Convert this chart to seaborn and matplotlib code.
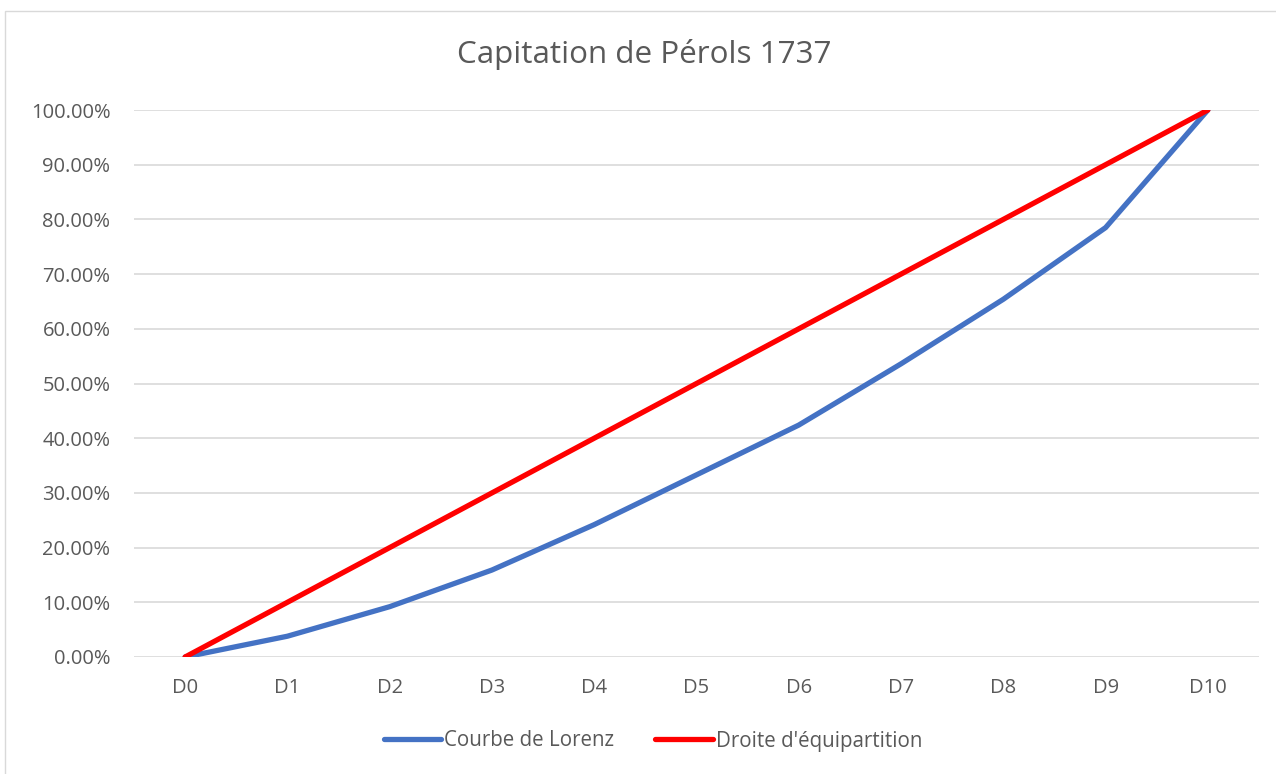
import matplotlib
matplotlib.use("Agg")
import matplotlib.pyplot as plt
from matplotlib.patches import Rectangle
from matplotlib.lines import Line2D
import seaborn as sns
import pandas as pd

deciles = ["D0", "D1", "D2", "D3", "D4", "D5", "D6", "D7", "D8", "D9", "D10"]
lorenz = [0.0, 0.038, 0.092, 0.159, 0.242, 0.333, 0.424, 0.536, 0.654, 0.785, 1.0]
equality = [0.0, 0.1, 0.2, 0.3, 0.4, 0.5, 0.6, 0.7, 0.8, 0.9, 1.0]
series_names = ["Courbe de Lorenz", "Droite d'équipartition"]
title = "Capitation de Pérols 1737"
colors = ["#4472C4", "#FF0000"]

df = pd.DataFrame({
    "x": list(range(len(deciles))) * 2,
    "y": lorenz + equality,
    "serie": [series_names[0]] * len(deciles) + [series_names[1]] * len(deciles),
})

sns.set_theme(style="white")
plt.rcParams["font.family"] = ["Open Sans", "DejaVu Sans"]

fig = plt.figure(figsize=(12.76, 7.74), dpi=100)
ax = fig.add_axes([134 / 1276, 1 - 657 / 774, 1125 / 1276, 547 / 774])

# outer chart frame
fig.patches.append(Rectangle((5 / 1276, -0.01), 1.02, 1 - 11 / 774 + 0.01,
                             transform=fig.transFigure, fill=False,
                             edgecolor="#D9D9D9", linewidth=1))

sns.lineplot(data=df, x="x", y="y", hue="serie", palette=colors,
             linewidth=3.8, ax=ax, legend=False, solid_capstyle="round")

ax.set_xlim(-0.5, len(deciles) - 0.5)
ax.set_ylim(0, 1)
ax.set_yticks([i / 10 for i in range(11)])
ax.set_yticklabels([f"{i * 10:.2f}%" for i in range(11)])
ax.set_xticks(range(len(deciles)))
ax.set_xticklabels(deciles)
ax.grid(axis="y", color="#D9D9D9", linewidth=1.2)
ax.set_axisbelow(True)
for s in ax.spines.values():
    s.set_visible(False)
ax.tick_params(axis="both", length=0, labelsize=14.5, colors="#595959")
ax.tick_params(axis="y", pad=17)
ax.tick_params(axis="x", pad=15)
ax.set_xlabel("")
ax.set_ylabel("")

fig.text(644 / 1276, 1 - 55 / 774, title, ha="center", va="center", fontsize=22.6, color="#595959")

handles = [Line2D([], [], color=c, linewidth=3.8, solid_capstyle="round") for c in colors]
fig.legend(handles, series_names, loc="center", bbox_to_anchor=(653 / 1276, 1 - 741 / 774),
           ncol=2, frameon=False, fontsize=14.8, labelcolor="#595959",
           handlelength=2.8, handletextpad=0.15, columnspacing=2.0)

fig.savefig("out.png", dpi=100, facecolor="white")
